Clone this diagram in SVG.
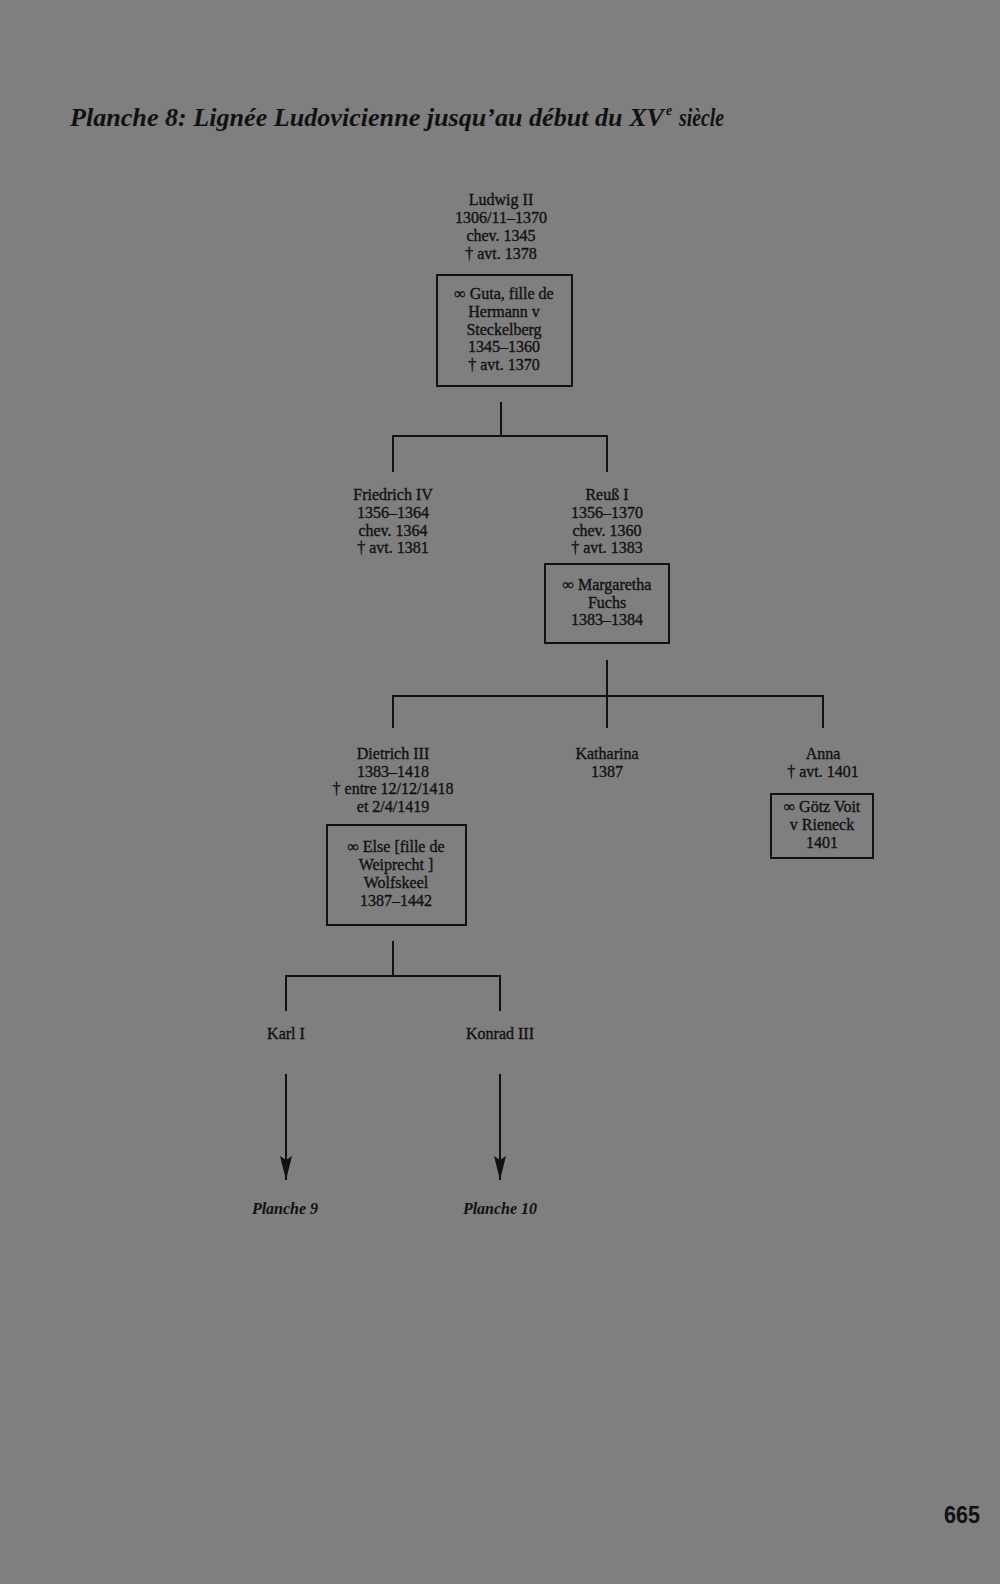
<svg xmlns="http://www.w3.org/2000/svg" width="1000" height="1584" viewBox="0 0 1000 1584">
<style>
text{font-family:"Liberation Serif","Times New Roman",serif;fill:#111;}
.t{font-size:16px;text-anchor:middle;stroke:#111;stroke-width:0.35px;}
.title{font-size:26px;font-style:italic;font-weight:bold;}
.pl{font-size:16px;font-style:italic;font-weight:bold;text-anchor:middle;}
.box{fill:none;stroke:#111;stroke-width:2;}
.con{fill:none;stroke:#111;stroke-width:2;}
.pg{font-family:"Liberation Sans",Arial,sans-serif;font-size:24px;font-weight:bold;}
</style>
<defs>
<marker id="arr" markerUnits="userSpaceOnUse" markerWidth="26" markerHeight="14" viewBox="0 -7 26 14" refX="24" refY="0" orient="auto">
<path d="M0,-6 L24,0 L0,6 L4,0 Z" fill="#111"/>
</marker>
</defs>
<rect width="1000" height="1584" fill="#7f7f7f"/>
<g id="title">
<text class="title" x="70" y="126" textLength="594" lengthAdjust="spacingAndGlyphs">Planche 8: Lignée Ludovicienne jusqu’au début du XV</text>
<text class="title" x="666" y="115" style="font-size:14px">e</text>
<text class="title" x="679" y="126" textLength="45" lengthAdjust="spacingAndGlyphs">siècle</text>
</g>
<g id="connectors">
<path class="con" d="M501,402 V436 M393,472 V436 H607 V472"/>
<path class="con" d="M607,660 V728 M393,728 V696 H823 V728"/>
<path class="con" d="M393,941 V976 M286,1011 V976 H500 V1011"/>
<path class="con" d="M286,1074 V1180" marker-end="url(#arr)"/>
<path class="con" d="M500,1074 V1180" marker-end="url(#arr)"/>
</g>
<g id="ludwig-ii">
<text class="t" x="501" y="205">Ludwig II</text>
<text class="t" x="501" y="223">1306/11–1370</text>
<text class="t" x="501" y="241">chev. 1345</text>
<text class="t" x="501" y="259">† avt. 1378</text>
</g>
<g id="guta">
<rect class="box" x="437" y="275" width="135" height="111"/>
<text class="t" x="504" y="299">∞ Guta, fille de</text>
<text class="t" x="504" y="317">Hermann v</text>
<text class="t" x="504" y="335">Steckelberg</text>
<text class="t" x="504" y="352">1345–1360</text>
<text class="t" x="504" y="370">† avt. 1370</text>
</g>
<g id="friedrich-iv">
<text class="t" x="393" y="500">Friedrich IV</text>
<text class="t" x="393" y="518">1356–1364</text>
<text class="t" x="393" y="536">chev. 1364</text>
<text class="t" x="393" y="553">† avt. 1381</text>
</g>
<g id="reuss-i">
<text class="t" x="607" y="500">Reuß I</text>
<text class="t" x="607" y="518">1356–1370</text>
<text class="t" x="607" y="536">chev. 1360</text>
<text class="t" x="607" y="553">† avt. 1383</text>
</g>
<g id="margaretha">
<rect class="box" x="545" y="564" width="124" height="79"/>
<text class="t" x="607" y="590">∞ Margaretha</text>
<text class="t" x="607" y="608">Fuchs</text>
<text class="t" x="607" y="625">1383–1384</text>
</g>
<g id="dietrich-iii">
<text class="t" x="393" y="759">Dietrich III</text>
<text class="t" x="393" y="777">1383–1418</text>
<text class="t" x="393" y="794">† entre 12/12/1418</text>
<text class="t" x="393" y="812">et 2/4/1419</text>
</g>
<g id="else">
<rect class="box" x="327" y="825" width="139" height="100"/>
<text class="t" x="396" y="852">∞ Else [fille de</text>
<text class="t" x="396" y="870">Weiprecht ]</text>
<text class="t" x="396" y="888">Wolfskeel</text>
<text class="t" x="396" y="906">1387–1442</text>
</g>
<g id="katharina">
<text class="t" x="607" y="759">Katharina</text>
<text class="t" x="607" y="777">1387</text>
</g>
<g id="anna">
<text class="t" x="823" y="759">Anna</text>
<text class="t" x="823" y="777">† avt. 1401</text>
</g>
<g id="goetz">
<rect class="box" x="771" y="794" width="102" height="64"/>
<text class="t" x="822" y="812">∞ Götz Voit</text>
<text class="t" x="822" y="830">v Rieneck</text>
<text class="t" x="822" y="848">1401</text>
</g>
<g id="karl-i">
<text class="t" x="286" y="1039">Karl I</text>
</g>
<g id="konrad-iii">
<text class="t" x="500" y="1039">Konrad III</text>
</g>
<g id="planche-9">
<text class="pl" x="285" y="1214">Planche 9</text>
</g>
<g id="planche-10">
<text class="pl" x="500" y="1214">Planche 10</text>
</g>
<g id="page-number">
<text class="pg" x="944" y="1523" textLength="36" lengthAdjust="spacingAndGlyphs">665</text>
</g>
</svg>
